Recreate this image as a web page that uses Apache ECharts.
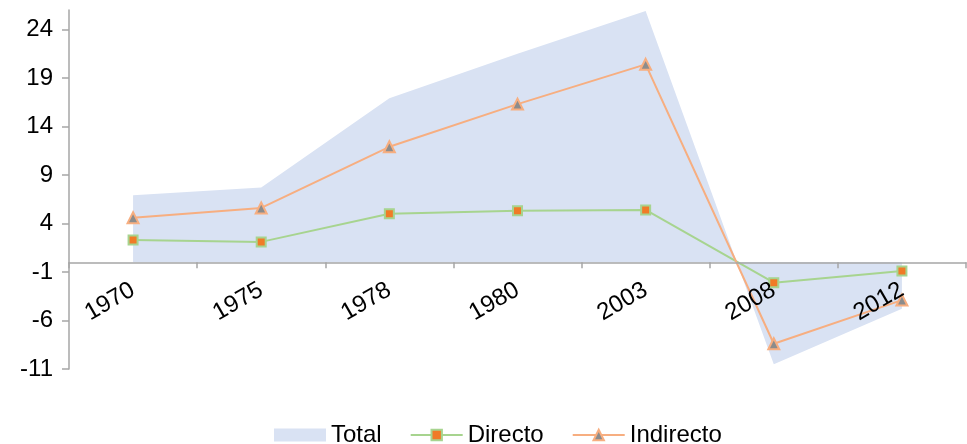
<!DOCTYPE html>
<html lang="es">
<head>
<meta charset="utf-8">
<title>Total, Directo, Indirecto</title>
<style>
  * { margin: 0; padding: 0; }
  #chart-container { width: 967px; height: 444px; background: #fff; }
</style>
</head>
<body>
<div id="chart-container"></div>
<script src="https://cdn.jsdelivr.net/npm/echarts@6.0.0/dist/echarts.min.js"></script>
<script>
var years = ['1970', '1975', '1978', '1980', '2003', '2008', '2012'];
var total = [6.9, 7.7, 16.9, 21.5, 25.9, -10.5, -4.8];
var directo = [2.3, 2.1, 5.0, 5.3, 5.4, -2.1, -0.9];
var indirecto = [4.6, 5.6, 11.9, 16.3, 20.4, -8.4, -3.9];
var yTicks = [-11, -6, -1, 4, 9, 14, 19, 24];

var dom = document.getElementById('chart-container');
var myChart = echarts.init(dom, null, { renderer: 'canvas' });

var font = 'Liberation Sans, Arial, sans-serif';
var yMin = -11, yMax = 26;
var gridTop = 10, gridBottom = 75;
// move the category axis up to the zero line (labels follow it)
var plotH = 444 - gridTop - gridBottom;
var zeroOffset = -plotH * (0 - yMin) / (yMax - yMin);

var option = {
  animation: false,
  grid: { left: 69, right: 1, top: gridTop, bottom: gridBottom },
  legend: {
    top: 418,
    left: 269,
    itemWidth: 52,
    itemHeight: 13,
    itemGap: 28,
    textStyle: { fontFamily: font, fontSize: 24, color: '#000' },
    data: [
      { name: 'Total', icon: 'rect' },
      { name: 'Directo' },
      { name: 'Indirecto' }
    ]
  },
  xAxis: {
    type: 'category',
    data: years,
    boundaryGap: true,
    offset: zeroOffset,
    z: 10,
    axisLine: { onZero: false, lineStyle: { color: '#a6a6a6', width: 1.5 } },
    axisTick: { show: true, length: 6, lineStyle: { color: '#a6a6a6', width: 1.5 } },
    axisLabel: {
      rotate: 30,
      margin: 26,
      color: '#000',
      fontFamily: font,
      fontSize: 24
    }
  },
  yAxis: {
    type: 'value',
    min: yMin,
    max: yMax,
    interval: 5,
    splitLine: { show: false },
    axisLine: { show: true, lineStyle: { color: '#a6a6a6', width: 1.5 } },
    axisTick: { show: true, length: 7, customValues: yTicks, lineStyle: { color: '#a6a6a6', width: 1.5 } },
    axisLabel: {
      customValues: yTicks,
      margin: 16,
      color: '#000',
      fontFamily: font,
      fontSize: 24
    }
  },
  series: [
    {
      name: 'Total',
      type: 'line',
      data: total,
      showSymbol: false,
      symbol: 'none',
      itemStyle: { color: '#d9e2f3' },
      lineStyle: { width: 0, color: '#d9e2f3' },
      areaStyle: { color: '#d9e2f3', opacity: 1 },
      z: 1
    },
    {
      name: 'Directo',
      type: 'line',
      data: directo,
      symbol: 'rect',
      symbolSize: 9,
      itemStyle: { color: '#f07b27', borderColor: '#a7d48f', borderWidth: 2 },
      lineStyle: { color: '#a7d48f', width: 2 },
      z: 3
    },
    {
      name: 'Indirecto',
      type: 'line',
      data: indirecto,
      symbol: 'triangle',
      symbolSize: 11,
      itemStyle: { color: '#8c8c8c', borderColor: '#f7ae80', borderWidth: 2 },
      lineStyle: { color: '#f7ae80', width: 2 },
      z: 3
    }
  ]
};

myChart.setOption(option);
window.addEventListener('resize', myChart.resize);
</script>
</body>
</html>
